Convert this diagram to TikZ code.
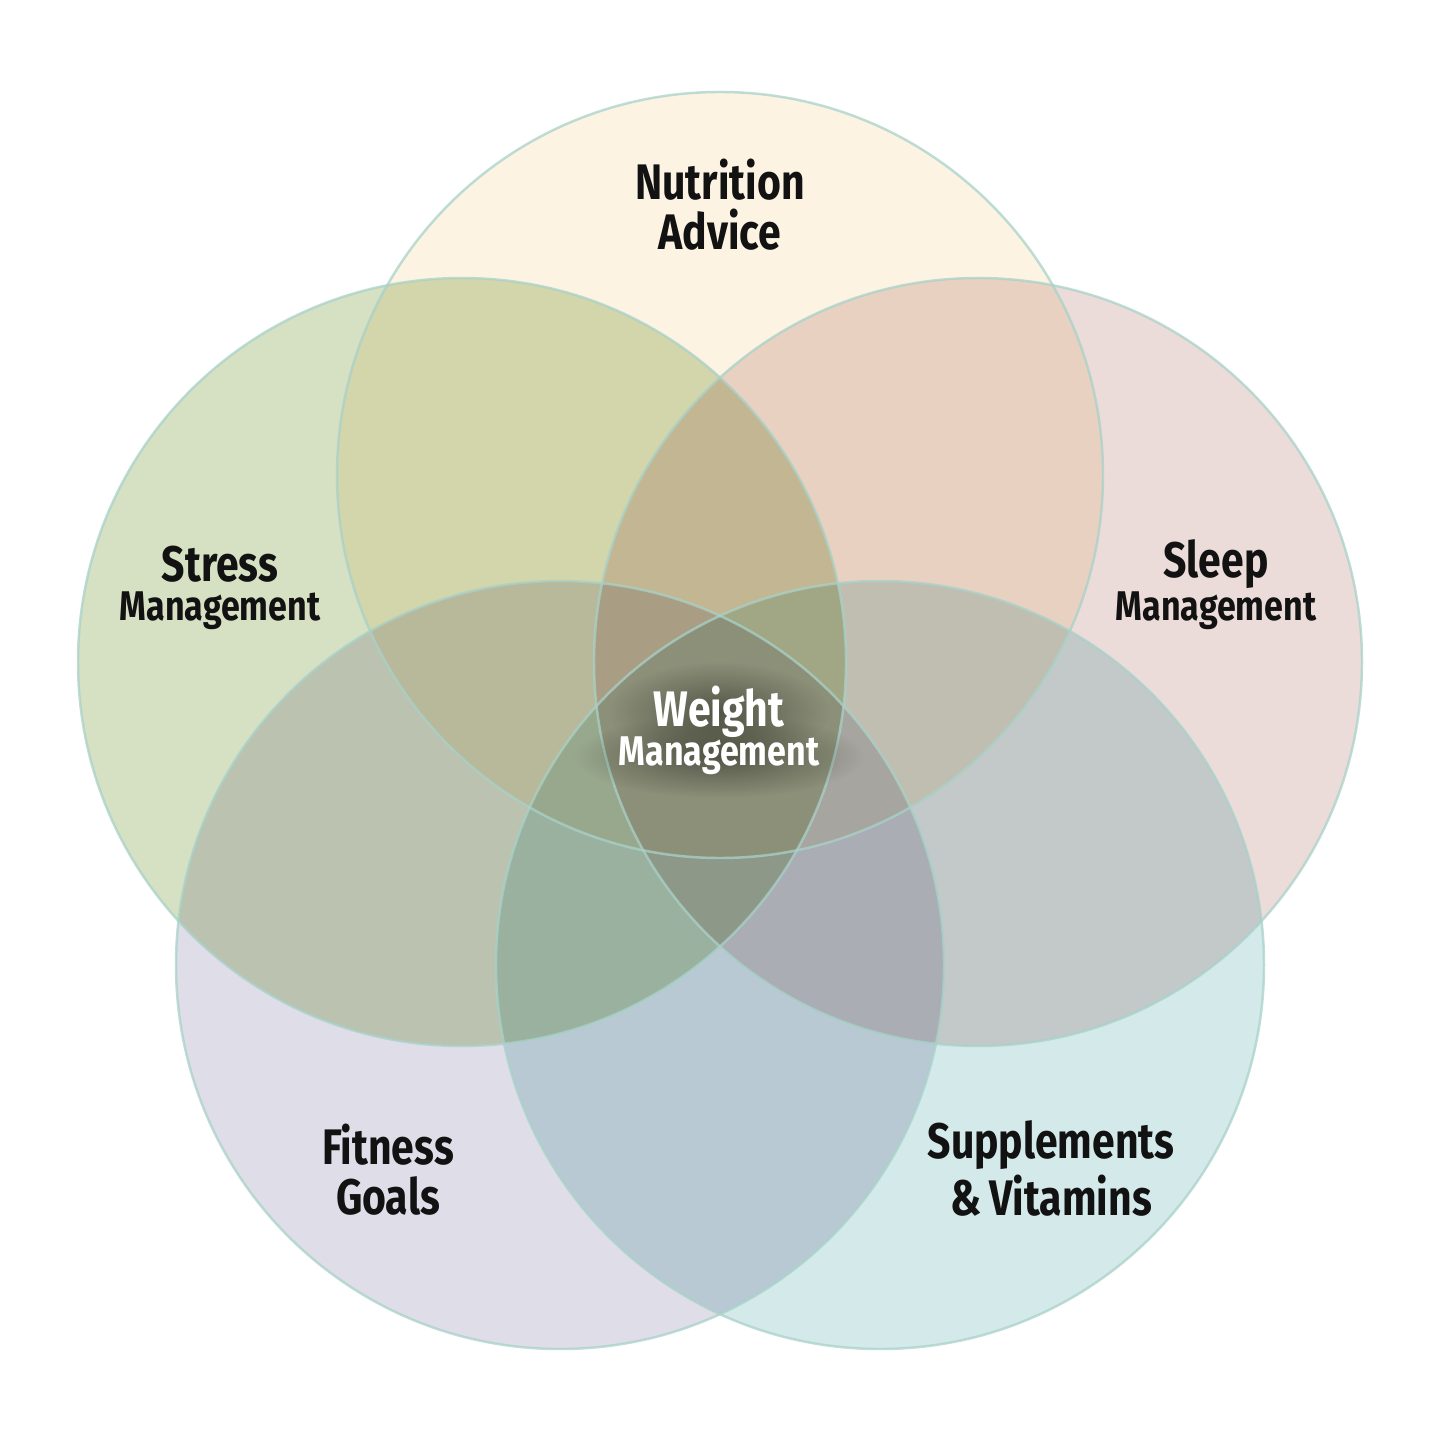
\documentclass[tikz,border=0pt]{standalone}
\usepackage{fontspec}
\usetikzlibrary{fadings}
\newfontfamily\lblfont{Fira Sans}[FakeStretch=0.82]
\definecolor{cNut}{HTML}{FCF3E2}
\definecolor{cStr}{HTML}{D6E0C2}
\definecolor{cSlp}{HTML}{EBDCDA}
\definecolor{cFit}{HTML}{DFDDE7}
\definecolor{cSup}{HTML}{D4E9EA}
\definecolor{cEdge}{HTML}{A8D2C9}
\definecolor{cTxt}{HTML}{121212}
\definecolor{cGlow}{HTML}{34342A}
\tikzfading[name=softglow, inner color=transparent!20, outer color=transparent!100]
\tikzset{
  venn/.style={fill=#1},
  ring/.style={draw=cEdge, line width=0.7pt, draw opacity=0.75},
  big/.style={font=\lblfont\bfseries\fontsize{14.2}{16}\selectfont, text=cTxt, inner sep=0pt},
  small/.style={font=\lblfont\bfseries\fontsize{11.8}{13}\selectfont, text=cTxt, inner sep=0pt},
  halo/.style={fill=cGlow, path fading=softglow, fit fading=true, fill opacity=0.8},
}
\begin{document}
\begin{tikzpicture}[x=0.01cm,y=-0.01cm]
\useasboundingbox (0,0) rectangle (1440,1440);
\fill[white] (0,0) rectangle (1440,1440);
\begin{scope}[blend group=multiply]
  \fill[venn=cNut] (720,475) circle [radius=383];
  \fill[venn=cStr] (462,662) circle [radius=384];
  \fill[venn=cSlp] (978,662) circle [radius=384];
  \fill[venn=cFit] (560,965) circle [radius=384];
  \fill[venn=cSup] (880,965) circle [radius=384];
\end{scope}
\draw[ring] (720,475) circle [radius=383];
\draw[ring] (462,662) circle [radius=384];
\draw[ring] (978,662) circle [radius=384];
\draw[ring] (560,965) circle [radius=384];
\draw[ring] (880,965) circle [radius=384];

\node[big] (nut1) at (720,180) {Nutrition};
\node[big] (nut2) at (720,230) {Advice};
\node[big] (str1) at (220,564) {Stress};
\node[small] (str2) at (220,611) {Management};
\node[big] (slp1) at (1216,564) {Sleep};
\node[small] (slp2) at (1216,611) {Management};
\node[big] (fit1) at (388,1145) {Fitness};
\node[big] (fit2) at (388,1196) {Goals};
\node[big] (sup1) at (1051,1145) {Supplements};
\node[big] (sup2) at (1051,1196) {\&\,Vitamins};

\fill[halo] (719,712) ellipse [x radius=110, y radius=50];
\fill[halo] (719,756) ellipse [x radius=145, y radius=42];
\node[big, text=white] (wm1) at (719,712) {Weight};
\node[small, text=white] (wm2) at (719,756) {Management};
\end{tikzpicture}
\end{document}
